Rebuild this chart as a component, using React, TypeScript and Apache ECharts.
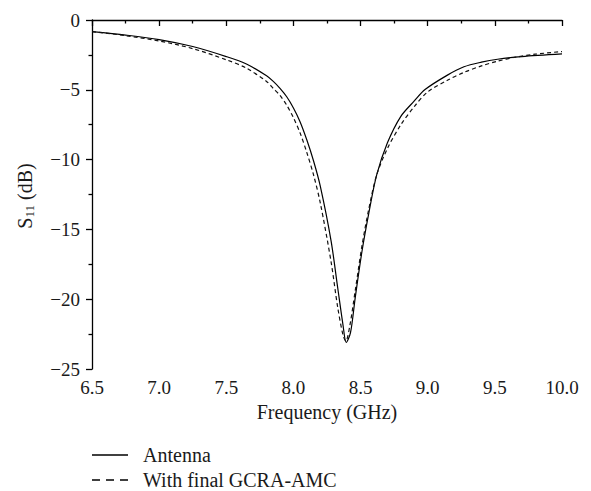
import React, { useEffect, useRef } from "react";
import * as echarts from "echarts";

const freqAntenna = [6.5, 6.75, 7.0, 7.25, 7.5, 7.65, 7.8, 7.85, 7.9, 7.95, 8.0, 8.05, 8.1, 8.15, 8.2, 8.28, 8.33, 8.37, 8.393, 8.425, 8.46, 8.51, 8.56, 8.62, 8.7, 8.8, 8.9, 8.98, 9.15, 9.27, 9.4, 9.52, 9.7, 10.0];
const s11Antenna = [-0.83, -1.08, -1.4, -1.9, -2.62, -3.15, -4.0, -4.4, -4.9, -5.5, -6.3, -7.3, -8.6, -10.1, -11.9, -15.8, -19.2, -21.9, -23.1, -22.4, -19.9, -16.6, -13.9, -11.1, -8.8, -6.9, -5.8, -4.98, -3.93, -3.35, -3.02, -2.81, -2.62, -2.43];

const freqAmc = [6.5, 6.75, 7.0, 7.25, 7.5, 7.65, 7.8, 7.85, 7.9, 7.95, 8.0, 8.05, 8.1, 8.15, 8.2, 8.28, 8.33, 8.37, 8.39, 8.42, 8.46, 8.51, 8.56, 8.62, 8.7, 8.8, 8.9, 9.0, 9.15, 9.27, 9.4, 9.52, 9.65, 9.8, 10.0];
const s11Amc = [-0.83, -1.12, -1.5, -2.05, -2.85, -3.45, -4.4, -4.9, -5.4, -6.1, -7.0, -8.1, -9.5, -11.1, -13.1, -17.3, -20.6, -22.6, -23.0, -21.9, -19.4, -16.2, -13.6, -11.1, -9.2, -7.5, -6.2, -5.15, -4.3, -3.75, -3.29, -2.95, -2.67, -2.45, -2.26];

const seriesNames = ["Antenna", "With final GCRA-AMC"];
const xTitle = "Frequency (GHz)";

const FONT = "'Liberation Serif', 'DejaVu Serif', serif";
const TXT = "#1a1a1a";

export default function App() {
  const ref = useRef<HTMLDivElement>(null);
  useEffect(() => {
    if (!ref.current) return;
    const chart = echarts.init(ref.current, undefined, { renderer: "svg" });
    const axisLine = { show: true, lineStyle: { color: "#000", width: 1.3 } };
    const tick = { show: true, inside: false, length: 6, lineStyle: { color: "#000", width: 1.3 } };
    const minor = { show: true, splitNumber: 2, length: 3.5, lineStyle: { color: "#000", width: 1.3 } };
    chart.setOption({
      animation: false,
      backgroundColor: "#fff",
      grid: { left: 92, top: 20, width: 470, height: 349 },
      xAxis: {
        type: "value",
        min: 6.5,
        max: 10,
        interval: 0.5,
        name: xTitle,
        nameLocation: "middle",
        nameGap: 33,
        nameTextStyle: { fontFamily: FONT, fontSize: 20, color: TXT },
        axisLine,
        axisTick: tick,
        minorTick: minor,
        splitLine: { show: false },
        axisLabel: { fontFamily: FONT, fontSize: 19, color: TXT, margin: 9, formatter: (v: number) => v.toFixed(1) },
      },
      yAxis: {
        type: "value",
        min: -25,
        max: 0,
        interval: 5,
        axisLine,
        axisTick: tick,
        minorTick: minor,
        splitLine: { show: false },
        axisLabel: {
          fontFamily: FONT,
          fontSize: 19,
          color: TXT,
          margin: 12,
          formatter: (v: number) => (v === 0 ? "0" : "\u2212" + Math.abs(v)),
        },
      },
      graphic: [
        {
          type: "text",
          x: 25,
          y: 196,
          rotation: Math.PI / 2,
          style: {
            text: "{s|S}{sub|11}{s| (dB)}",
            align: "center",
            verticalAlign: "middle",
            fill: TXT,
            rich: {
              s: { fontFamily: FONT, fontSize: 20, fill: TXT, color: TXT },
              sub: { fontFamily: FONT, fontSize: 13, fill: TXT, color: TXT, padding: [9, 0, 0, 0] },
            },
          },
        },
        { type: "line", shape: { x1: 92, y1: 455, x2: 128, y2: 455 }, style: { stroke: "#000", lineWidth: 1.3 } },
        { type: "text", x: 143, y: 455, style: { text: seriesNames[0], fontFamily: FONT, fontSize: 20, fill: TXT, verticalAlign: "middle" } },
        { type: "line", shape: { x1: 92, y1: 480, x2: 128, y2: 480 }, style: { stroke: "#000", lineWidth: 1.3, lineDash: [8, 6] } },
        { type: "text", x: 143, y: 480, style: { text: seriesNames[1], fontFamily: FONT, fontSize: 20, fill: TXT, verticalAlign: "middle" } },
      ],
      series: [
        {
          name: seriesNames[0],
          type: "line",
          symbol: "none",
          smooth: 0.3,
          lineStyle: { color: "#000", width: 1.2, type: "solid" },
          data: freqAntenna.map((f, i) => [f, s11Antenna[i]]),
        },
        {
          name: seriesNames[1],
          type: "line",
          symbol: "none",
          smooth: 0.3,
          lineStyle: { color: "#111", width: 1.2, type: [4, 3] },
          data: freqAmc.map((f, i) => [f, s11Amc[i]]),
        },
      ],
    });
    return () => chart.dispose();
  }, []);
  return (
    <div
      ref={ref}
      style={{ position: "fixed", left: 0, top: 0, width: 591, height: 491, background: "#fff" }}
    />
  );
}
